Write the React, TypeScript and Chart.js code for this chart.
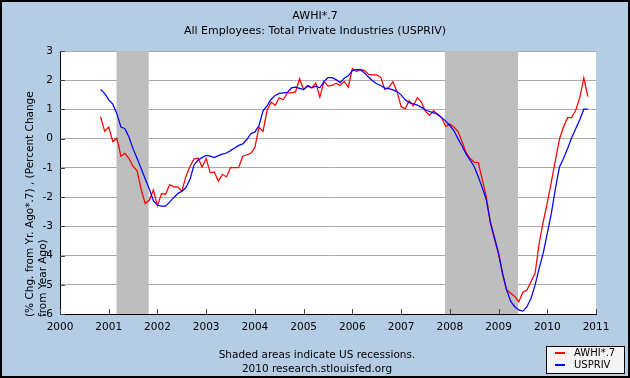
import React, { useEffect, useRef } from "react";
import { Chart, registerables } from "chart.js";

Chart.register(...registerables);

// first observation: November 2000, monthly
const START_YEAR = 2000;
const START_MONTH = 11;

const awhi = [
  0.75, 0.25, 0.40, -0.10, 0.02, -0.60, -0.50, -0.68, -0.95, -1.10,
  -1.75, -2.22, -2.10, -1.76, -2.30, -1.88, -1.90, -1.57, -1.65, -1.65,
  -1.80, -1.30, -0.95, -0.70, -0.66, -0.97, -0.68, -1.17, -1.14, -1.45,
  -1.22, -1.31, -0.99, -0.99, -0.99, -0.60, -0.55, -0.50, -0.30, 0.40,
  0.25, 0.97, 1.25, 1.14, 1.40, 1.33, 1.57, 1.57, 1.60, 2.05,
  1.68, 1.80, 1.74, 1.90, 1.42, 1.96, 1.80, 1.82, 1.90, 1.82,
  1.96, 1.76, 2.40, 2.30, 2.37, 2.33, 2.20, 2.18, 2.18, 2.10,
  1.68, 1.76, 1.95, 1.60, 1.10, 1.02, 1.30, 1.12, 1.40, 1.25,
  0.93, 0.80, 0.96, 0.82, 0.72, 0.42, 0.50, 0.40, 0.25, -0.10,
  -0.47, -0.68, -0.80, -0.82, -1.40, -2.00, -2.90, -3.44, -3.95, -4.65,
  -5.18, -5.29, -5.40, -5.58, -5.25, -5.18, -4.89, -4.61, -3.58, -2.85,
  -2.20, -1.48, -0.74, -0.02, 0.40, 0.72, 0.72, 0.97, 1.40, 2.08,
  1.44,
];

const uspriv = [
  1.68, 1.55, 1.33, 1.18, 0.85, 0.40, 0.34, 0.05, -0.35, -0.68,
  -1.03, -1.38, -1.72, -2.12, -2.28, -2.31, -2.31, -2.17, -2.02, -1.88,
  -1.80, -1.68, -1.40, -0.90, -0.73, -0.65, -0.57, -0.60, -0.65, -0.58,
  -0.53, -0.49, -0.41, -0.32, -0.23, -0.18, -0.03, 0.17, 0.23, 0.45,
  0.95, 1.12, 1.35, 1.48, 1.55, 1.57, 1.58, 1.74, 1.76, 1.72,
  1.68, 1.82, 1.74, 1.80, 1.74, 1.95, 2.09, 2.09, 2.02, 1.92,
  2.07, 2.15, 2.33, 2.36, 2.36, 2.25, 2.10, 1.98, 1.88, 1.82,
  1.73, 1.71, 1.67, 1.61, 1.50, 1.33, 1.23, 1.19, 1.15, 1.07,
  0.98, 0.93, 0.88, 0.84, 0.72, 0.60, 0.45, 0.28, 0.00, -0.25,
  -0.52, -0.74, -0.95, -1.30, -1.68, -2.10, -2.86, -3.39, -3.92, -4.61,
  -5.18, -5.57, -5.75, -5.86, -5.90, -5.75, -5.46, -5.01, -4.44, -3.92,
  -3.24, -2.56, -1.71, -0.97, -0.68, -0.34, 0.03, 0.34, 0.65, 1.01,
  1.01,
];

const recessionStarts = [2001.16, 2007.9];
const recessionEnds = [2001.82, 2009.4];

const X_MIN = 2000;
const X_MAX = 2011;
const Y_MIN = -6;
const Y_MAX = 3;

const seriesNames = ["AWHI*.7", "USPRIV"];
const seriesColors = ["#FF0000", "#0000FF"];

const titleText = "AWHI*.7";
const subtitleText = "All Employees: Total Private Industries (USPRIV)";
const yTitleLines = ["(% Chg. from Yr. Ago*.7) , (Percent Change", "from Year Ago)"];
const footerLines = ["Shaded areas indicate US recessions.", "2010 research.stlouisfed.org"];

const FONT = "'DejaVu Sans', Verdana, sans-serif";
const BG = "#B4CDE4";

function dateOf(i: number) {
  return START_YEAR + (START_MONTH - 1 + i) / 12;
}

const decorPlugin = {
  id: "decor",
  beforeDraw(chart: any) {
    const { ctx, chartArea } = chart;
    ctx.save();
    ctx.fillStyle = BG;
    ctx.fillRect(0, 0, chart.width, chart.height);
    ctx.fillStyle = "#FFFFFF";
    ctx.fillRect(chartArea.left, chartArea.top, chartArea.right - chartArea.left, chartArea.bottom - chartArea.top);
    ctx.restore();
  },
  beforeDatasetsDraw(chart: any) {
    const { ctx, chartArea, scales } = chart;
    ctx.save();
    ctx.fillStyle = "#BEBEBE";
    for (let i = 0; i < recessionStarts.length; i++) {
      const x1 = scales.x.getPixelForValue(recessionStarts[i]);
      const x2 = scales.x.getPixelForValue(recessionEnds[i]);
      ctx.fillRect(x1, chartArea.top, x2 - x1, chartArea.bottom - chartArea.top);
    }
    ctx.restore();
  },
  afterDraw(chart: any) {
    const { ctx, chartArea, scales } = chart;
    ctx.save();
    // inner tick marks
    ctx.strokeStyle = "#444444";
    ctx.lineWidth = 1;
    ctx.beginPath();
    for (let v = X_MIN; v <= X_MAX; v++) {
      const x = Math.round(scales.x.getPixelForValue(v)) + 0.5;
      ctx.moveTo(x, chartArea.bottom);
      ctx.lineTo(x, chartArea.bottom - 5);
    }
    for (let v = Y_MIN; v <= Y_MAX; v++) {
      const y = Math.round(scales.y.getPixelForValue(v)) + 0.5;
      ctx.moveTo(chartArea.left, y);
      ctx.lineTo(chartArea.left + 5, y);
    }
    ctx.stroke();

    ctx.fillStyle = "#000000";
    ctx.textAlign = "center";
    ctx.textBaseline = "middle";
    ctx.font = `11px ${FONT}`;
    ctx.fillText(titleText, chart.width / 2, 16);
    ctx.fillText(subtitleText, chart.width / 2, 31);

    ctx.font = `10.5px ${FONT}`;
    ctx.fillText(footerLines[0], 317, 355);
    ctx.fillText(footerLines[1], 317, 369);

    // y axis title
    ctx.save();
    ctx.translate(30, 317);
    ctx.rotate(-Math.PI / 2);
    ctx.textAlign = "left";
    ctx.font = `10.5px ${FONT}`;
    ctx.fillText(yTitleLines[0], 0, 0);
    ctx.fillText(yTitleLines[1], 0, 13);
    ctx.restore();

    // legend
    ctx.fillStyle = "#F4F4F4";
    ctx.fillRect(546.5, 346.5, 78, 27);
    ctx.strokeStyle = "#000000";
    ctx.lineWidth = 1;
    ctx.strokeRect(546.5, 346.5, 78, 27);
    ctx.font = `10px ${FONT}`;
    ctx.textAlign = "left";
    for (let i = 0; i < seriesNames.length; i++) {
      const y = 353 + i * 12;
      ctx.strokeStyle = seriesColors[i];
      ctx.lineWidth = 2;
      ctx.beginPath();
      ctx.moveTo(555, y);
      ctx.lineTo(565, y);
      ctx.stroke();
      ctx.fillStyle = "#000000";
      ctx.fillText(seriesNames[i], 574, y);
    }

    // outer frame
    ctx.strokeStyle = "#000000";
    ctx.lineWidth = 2;
    ctx.strokeRect(1, 1, chart.width - 2, chart.height - 2);
    ctx.restore();
  },
};

export default function App() {
  const ref = useRef<HTMLCanvasElement | null>(null);
  useEffect(() => {
    if (!ref.current) return;
    const chart = new Chart(ref.current, {
      type: "line",
      data: {
        datasets: [
          {
            label: seriesNames[1],
            data: uspriv.map((v, i) => ({ x: dateOf(i), y: v })),
            borderColor: seriesColors[1],
            borderWidth: 1.25,
            pointRadius: 0,
            tension: 0,
            order: 0,
          },
          {
            label: seriesNames[0],
            data: awhi.map((v, i) => ({ x: dateOf(i), y: v })),
            borderColor: seriesColors[0],
            borderWidth: 1.25,
            pointRadius: 0,
            tension: 0,
            order: 1,
          },
        ],
      },
      options: {
        responsive: false,
        animation: false,
        events: [],
        layout: { padding: { left: 0, right: 34, top: 51, bottom: 44 } },
        plugins: { legend: { display: false }, tooltip: { enabled: false }, title: { display: false } },
        scales: {
          x: {
            type: "linear",
            min: X_MIN,
            max: X_MAX,
            afterFit: (s: any) => { s.height = 20; },
            grid: { display: false, drawTicks: false },
            border: { display: true, color: "#000000", width: 1 },
            ticks: {
              stepSize: 1,
              padding: 7,
              color: "#000000",
              font: { family: FONT, size: 10.5 },
              maxRotation: 0,
              callback: (v: any) => String(v),
            },
          },
          y: {
            min: Y_MIN,
            max: Y_MAX,
            afterFit: (s: any) => { s.width = 60; },
            grid: { color: "#AAAAAA", drawTicks: false, lineWidth: 1 },
            border: { display: true, color: "#000000", width: 1 },
            ticks: {
              stepSize: 1,
              padding: 7,
              color: "#000000",
              font: { family: FONT, size: 10.5 },
              callback: (v: any) => String(v),
            },
          },
        },
      },
      plugins: [decorPlugin],
    });
    return () => chart.destroy();
  }, []);
  return (
    <div style={{ position: "absolute", left: 0, top: 0, width: 630, height: 378 }}>
      <canvas ref={ref} width={630} height={378} style={{ display: "block" }} />
    </div>
  );
}
